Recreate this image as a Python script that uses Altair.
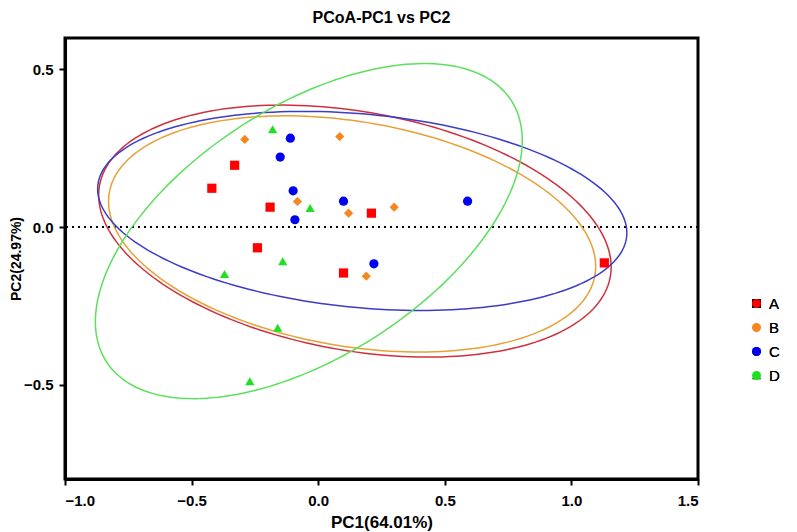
import altair as alt
import pandas as pd

# ---- data ----
groups = ["A", "B", "C", "D"]

a_x = [-0.42, -0.33, -0.19, -0.24, 0.21, 0.10, 1.13]
a_y = [0.123, 0.196, 0.063, -0.066, 0.044, -0.146, -0.114]
b_x = [-0.29, 0.085, -0.082, 0.12, 0.30, 0.19]
b_y = [0.278, 0.287, 0.081, 0.044, 0.063, -0.156]
c_x = [-0.11, -0.15, -0.099, -0.092, 0.10, 0.22, 0.59]
c_y = [0.282, 0.222, 0.115, 0.023, 0.082, -0.117, 0.082]
d_x = [-0.18, -0.032, -0.14, -0.37, -0.16, -0.27]
d_y = [0.31, 0.06, -0.109, -0.149, -0.32, -0.49]

# confidence ellipse parameters per group (centre, half extents, correlation)
ell_cx = [0.145, 0.134, 0.174, -0.037]
ell_cy = [-0.013, -0.022, 0.051, -0.013]
ell_wx = [1.012, 0.962, 1.045, 0.843]
ell_hy = [0.400, 0.375, 0.316, 0.532]
ell_r = [-0.285, -0.275, -0.22, 0.54]

point_colors = ["#FF0000", "#F7861E", "#0000F0", "#1EE01E"]
ellipse_colors = ["#D0303C", "#E8A038", "#3C3CC8", "#5CE05C"]
shapes = ["square", "diamond", "circle", "triangle-up"]

rows = []
for g, xs, ys in zip(groups, [a_x, b_x, c_x, d_x], [a_y, b_y, c_y, d_y]):
    for x, y in zip(xs, ys):
        rows.append({"g": g, "x": x, "y": y})
pts = pd.DataFrame(rows)

ell = pd.DataFrame({"g": groups, "cx": ell_cx, "cy": ell_cy,
                    "wx": ell_wx, "hy": ell_hy, "r": ell_r})

FONT = "Liberation Sans"

xscale = alt.Scale(domain=[-1.0, 1.5], nice=False, zero=False)
yscale = alt.Scale(domain=[-0.8, 0.6], nice=False, zero=False)

xaxis = alt.Axis(values=[-1.0, -0.5, 0.0, 0.5, 1.0, 1.5], format=".1f",
                 title="PC1(64.01%)", grid=False, labelPadding=8,
                 titleFontSize=17, titlePadding=6)
yaxis = alt.Axis(values=[-0.5, 0.0, 0.5], format=".1f",
                 title="PC2(24.97%)", grid=False, labelPadding=6,
                 titleFontSize=14, titlePadding=0)

ellipses = alt.Chart(ell).transform_calculate(
    i="sequence(0, 201)"
).transform_flatten(["i"]).transform_calculate(
    t="datum.i * 2 * PI / 200",
    phi="acos(datum.r)",
).transform_calculate(
    ex="datum.cx + datum.wx * cos(datum.t)",
    ey="datum.cy + datum.hy * cos(datum.t - datum.phi)",
).mark_line(strokeWidth=1.5, clip=True).encode(
    x=alt.X("ex:Q", scale=xscale, axis=xaxis),
    y=alt.Y("ey:Q", scale=yscale, axis=yaxis),
    color=alt.Color("g:N", scale=alt.Scale(domain=groups, range=ellipse_colors), legend=None),
    detail="g:N",
    order="t:Q",
)

zero_line = alt.Chart(pd.DataFrame({"y0": [0.0]})).mark_rule(
    color="black", strokeWidth=2, strokeDash=[2, 4]
).encode(y=alt.Y("y0:Q", scale=yscale))

points = alt.Chart(pts).mark_point(filled=True, opacity=1, size=85).encode(
    x=alt.X("x:Q", scale=xscale),
    y=alt.Y("y:Q", scale=yscale),
    color=alt.Color("g:N", scale=alt.Scale(domain=groups, range=point_colors),
                    legend=alt.Legend(title=None)),
    shape=alt.Shape("g:N", scale=alt.Scale(domain=groups, range=shapes),
                    legend=alt.Legend(title=None)),
)

chart = alt.layer(zero_line, ellipses, points).resolve_scale(
    color="independent"
).properties(
    width=633, height=441,
    title=alt.TitleParams("PCoA-PC1 vs PC2", font=FONT, fontSize=16,
                          fontWeight="bold", anchor="middle", offset=12, color="black"),
    autosize=alt.AutoSizeParams(type="none"),
    padding={"left": 57, "top": 30, "right": 91, "bottom": 52},
).configure_view(
    stroke="black", strokeWidth=3
).configure_axis(
    domainColor="black", domainWidth=3, tickColor="black", tickWidth=2, tickSize=6,
    labelFont=FONT, labelFontSize=15, labelFontWeight="bold", labelColor="black",
    titleFont=FONT, titleFontWeight="bold", titleColor="black",
).configure_legend(
    orient="none", legendX=684, legendY=258, symbolSize=80, labelFont=FONT,
    labelFontSize=15, labelColor="black", rowPadding=8, labelOffset=5,
    symbolStrokeWidth=0,
)

chart.save("out.html", embed_options={"renderer": "svg", "actions": False})
